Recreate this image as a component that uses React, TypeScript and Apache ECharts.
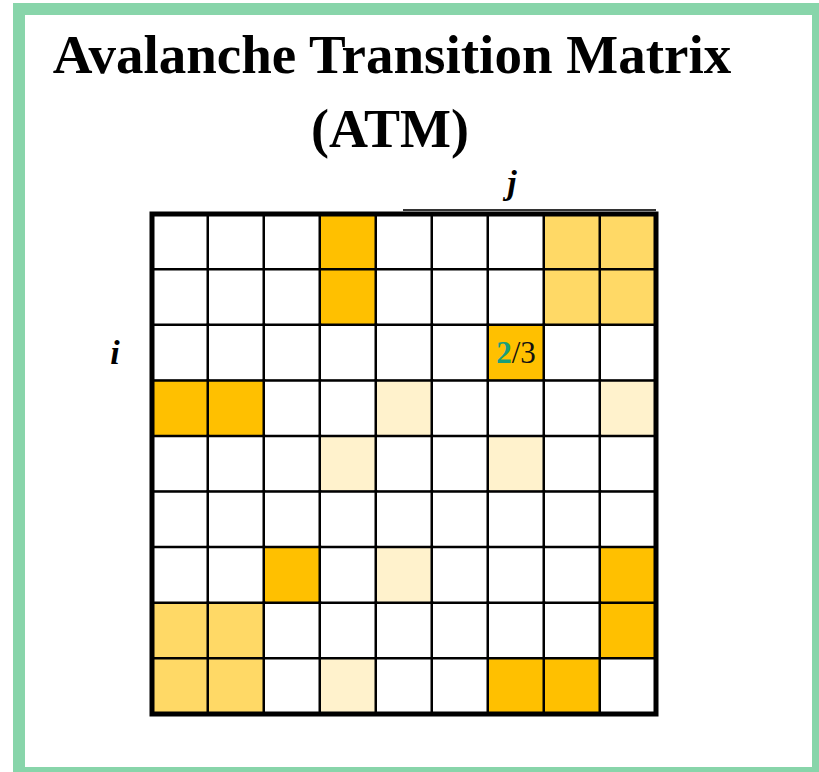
import React, { useEffect, useRef } from "react";
import * as echarts from "echarts";

// Matrix of shade levels: 0 = empty, 1 = light, 2 = medium, 3 = strong
const rowLabels = ["0", "1", "2", "3", "4", "5", "6", "7", "8"];
const colLabels = ["0", "1", "2", "3", "4", "5", "6", "7", "8"];
const row0 = [0, 0, 0, 3, 0, 0, 0, 2, 2];
const row1 = [0, 0, 0, 3, 0, 0, 0, 2, 2];
const row2 = [0, 0, 0, 0, 0, 0, 3, 0, 0];
const row3 = [3, 3, 0, 0, 1, 0, 0, 0, 1];
const row4 = [0, 0, 0, 1, 0, 0, 1, 0, 0];
const row5 = [0, 0, 0, 0, 0, 0, 0, 0, 0];
const row6 = [0, 0, 3, 0, 1, 0, 0, 0, 3];
const row7 = [2, 2, 0, 0, 0, 0, 0, 0, 3];
const row8 = [2, 2, 0, 1, 0, 0, 3, 3, 0];
const matrixRows = [row0, row1, row2, row3, row4, row5, row6, row7, row8];
const levelColors = ["#FFFFFF", "#FFF2CC", "#FFD966", "#FFC000"];
const annotatedCell = { row: 2, col: 6, numerator: "2", denominator: "3" };
const titleLines = ["Avalanche Transition Matrix", "(ATM)"];

export default function App() {
  const ref = useRef<HTMLDivElement>(null);
  useEffect(() => {
    if (!ref.current) return;
    const chart = echarts.init(ref.current, undefined, { renderer: "svg" });
    const data: any[] = [];
    matrixRows.forEach((r, ri) =>
      r.forEach((v, ci) => {
        const item: any = { value: [ci, ri, v] };
        if (ri === annotatedCell.row && ci === annotatedCell.col) {
          item.label = {
            show: true,
            formatter: `{g|${annotatedCell.numerator}}{b|/${annotatedCell.denominator}}`,
            rich: {
              g: { color: "#1A9E7A", fontFamily: "Liberation Serif", fontSize: 31, fontWeight: "bold" },
              b: { color: "#111", fontFamily: "Liberation Serif", fontSize: 31 },
            },
          };
        }
        data.push(item);
      })
    );
    const serif = "Liberation Serif";
    chart.setOption({
      animation: false,
      backgroundColor: "#ffffff",
      grid: {
        left: 152,
        top: 214,
        width: 504,
        height: 500,
        show: true,
        borderColor: "#000",
        borderWidth: 5,
        backgroundColor: "transparent",
        z: 10,
      },
      xAxis: {
        type: "category",
        data: colLabels,
        position: "top",
        axisLine: { show: false },
        axisTick: { show: false },
        axisLabel: { show: false },
        splitLine: { show: false },
      },
      yAxis: {
        type: "category",
        data: rowLabels,
        inverse: true,
        axisLine: { show: false },
        axisTick: { show: false },
        axisLabel: { show: false },
        splitLine: { show: false },
      },
      visualMap: {
        type: "piecewise",
        show: false,
        dimension: 2,
        pieces: levelColors.map((c, i) => ({ value: i, color: c })),
      },
      series: [
        {
          type: "heatmap",
          data,
          itemStyle: { borderColor: "#000", borderWidth: 2.5 },
          emphasis: { disabled: true },
          label: { show: false },
        },
      ],
      graphic: [
        {
          type: "rect",
          shape: { x: 19, y: 9, width: 799, height: 764 },
          style: { fill: "none", stroke: "#88D5AA", lineWidth: 12 },
          z: 100,
        },
        {
          type: "text",
          x: 392,
          y: 54,
          style: {
            text: titleLines[0],
            fontFamily: serif,
            fontSize: 55,
            fontWeight: "bold",
            fill: "#000",
            align: "center",
            verticalAlign: "middle",
          },
        },
        {
          type: "text",
          x: 390,
          y: 129,
          style: {
            text: titleLines[1],
            fontFamily: serif,
            fontSize: 54,
            fontWeight: "bold",
            fill: "#000",
            align: "center",
            verticalAlign: "middle",
          },
        },
        {
          type: "text",
          x: 512,
          y: 182,
          style: {
            text: "j",
            fontFamily: serif,
            fontSize: 34,
            fontWeight: "bold",
            fontStyle: "italic",
            fill: "#000",
            align: "center",
            verticalAlign: "middle",
          },
        },
        {
          type: "text",
          x: 115,
          y: 352,
          style: {
            text: "i",
            fontFamily: serif,
            fontSize: 34,
            fontWeight: "bold",
            fontStyle: "italic",
            fill: "#000",
            align: "center",
            verticalAlign: "middle",
          },
        },
        {
          type: "line",
          shape: { x1: 403, y1: 210, x2: 656, y2: 210 },
          style: { stroke: "#333", lineWidth: 2 },
        },
      ],
    });
    return () => chart.dispose();
  }, []);
  return (
    <div
      ref={ref}
      style={{ position: "fixed", left: 0, top: 0, width: 819, height: 772 }}
    />
  );
}
